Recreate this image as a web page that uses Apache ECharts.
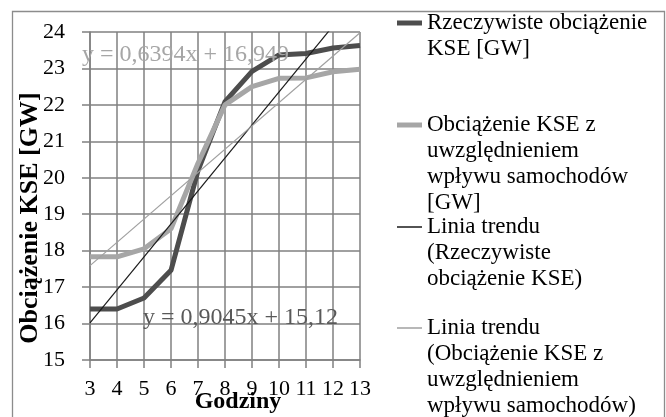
<!DOCTYPE html>
<html>
<head>
<meta charset="utf-8">
<script src="https://cdn.jsdelivr.net/npm/echarts@6/dist/echarts.min.js"></script>
<style>html,body{margin:0;padding:0;background:#fff;}#c{width:666px;height:417px;}</style>
</head>
<body>
<div id="c"></div>
<script>
// ---- data ----
const hours = [3, 4, 5, 6, 7, 8, 9, 10, 11, 12, 13];
const actualLoad = [16.4, 16.4, 16.7, 17.46, 20.2, 22.09, 22.92, 23.37, 23.41, 23.56, 23.63];
const loadWithEV = [17.83, 17.83, 18.05, 18.6, 20.4, 22.0, 22.5, 22.73, 22.74, 22.91, 22.98];
const trendHours = [3, 13];
const trendActual = [16.02, 25.07];
const trendEV = [17.59, 23.98];
const yTicks = [15, 24, 1];
const seriesNames = [
  'Rzeczywiste obciążenie KSE [GW]',
  'Obciążenie KSE z uwzględnieniem wpływu samochodów [GW]',
  'Linia trendu (Rzeczywiste obciążenie KSE)',
  'Linia trendu (Obciążenie KSE z uwzględnieniem wpływu samochodów)'
];
const legendLines = [
  ['Rzeczywiste obciążenie', 'KSE [GW]'],
  ['Obciążenie KSE z', 'uwzględnieniem', 'wpływu samochodów', '[GW]'],
  ['Linia trendu', '(Rzeczywiste', 'obciążenie KSE)'],
  ['Linia trendu', '(Obciążenie KSE z', 'uwzględnieniem', 'wpływu samochodów)']
];
const equationTexts = ['y = 0,6394x + 16,949', 'y = 0,9045x + 15,12'];

// ---- chart ----
const FONT = 'Liberation Serif';
const pairs = (xs, ys) => xs.map((x, i) => [x, ys[i]]);
const LH = 26;
const iconY = [22, 124, 226, 327];
const iconH = [5, 5, 1.5, 1.5];
const legends = legendLines.map((lines, i) => {
  const n = lines.length;
  const box = (2 * n - 1) * LH;
  const padded = new Array(n - 1).fill('').concat(lines).join('\n');
  return {
    data: [{ name: seriesNames[i], icon: 'rect' }],
    orient: 'vertical',
    left: 397,
    top: iconY[i] - box / 2 + 1,
    padding: 0,
    itemWidth: 25,
    itemHeight: iconH[i],
    selectedMode: false,
    formatter: () => padded,
    textStyle: { fontFamily: FONT, fontSize: 23, color: '#000', lineHeight: LH }
  };
});

const gridColor = '#808080';
const option = {
  animation: false,
  backgroundColor: '#fff',
  grid: { left: 90, right: 306, top: 32, bottom: 57, containLabel: false, outerBoundsMode: 'none' },
  legend: legends,
  xAxis: {
    type: 'value', min: 3, max: 13, interval: 1,
    name: 'Godziny', nameLocation: 'middle', nameGap: 30, nameMoveOverlap: false,
    nameTextStyle: { fontFamily: FONT, fontSize: 24, fontWeight: 'bold', color: '#000', padding: [0, 0, 0, 26] },
    axisLine: { show: true, lineStyle: { color: gridColor, width: 1.5 } },
    axisTick: { show: true, length: 8, lineStyle: { color: gridColor, width: 1.5 } },
    axisLabel: { fontFamily: FONT, fontSize: 22, color: '#000', margin: 18 },
    splitLine: { show: true, lineStyle: { color: gridColor, width: 1.5 } }
  },
  yAxis: {
    type: 'value', min: yTicks[0], max: yTicks[1], interval: yTicks[2],
    name: 'Obciążenie KSE [GW]', nameLocation: 'middle', nameGap: 47, nameRotate: 90, nameMoveOverlap: false,
    nameTextStyle: { fontFamily: FONT, fontSize: 26, fontWeight: 'bold', color: '#000', padding: [0, 44, 0, 0] },
    axisLine: { show: true, lineStyle: { color: gridColor, width: 1.5 } },
    axisTick: { show: true, length: 8, lineStyle: { color: gridColor, width: 1.5 } },
    axisLabel: { fontFamily: FONT, fontSize: 22, color: '#000', margin: 25 },
    splitLine: { show: true, lineStyle: { color: gridColor, width: 1.5 } }
  },
  series: [
    { name: seriesNames[0], type: 'line', data: pairs(hours, actualLoad), symbol: 'none',
      lineStyle: { color: '#4d4d4d', width: 5 }, itemStyle: { color: '#4d4d4d' }, z: 3 },
    { name: seriesNames[1], type: 'line', data: pairs(hours, loadWithEV), symbol: 'none',
      lineStyle: { color: '#a6a6a6', width: 5 }, itemStyle: { color: '#a6a6a6' }, z: 3 },
    { name: seriesNames[2], type: 'line', data: pairs(trendHours, trendActual), symbol: 'none', clip: true,
      lineStyle: { color: '#1a1a1a', width: 1.2 }, itemStyle: { color: '#1a1a1a' }, z: 4 },
    { name: seriesNames[3], type: 'line', data: pairs(trendHours, trendEV), symbol: 'none', clip: true,
      lineStyle: { color: '#a0a0a0', width: 1.2 }, itemStyle: { color: '#a0a0a0' }, z: 4 }
  ],
  graphic: [
    { type: 'rect', shape: { x: 12.5, y: 11.5, width: 652, height: 430 }, silent: true,
      style: { fill: 'none', stroke: '#8c8c8c', lineWidth: 1.3 }, z: 0 },
    { type: 'text', left: 82, top: 43, z: 10,
      style: { text: equationTexts[0], fontFamily: FONT, fontSize: 24, fill: '#a6a6a6' } },
    { type: 'text', left: 143, top: 306, z: 10,
      style: { text: equationTexts[1], fontFamily: FONT, fontSize: 24, fill: '#595959' } }
  ]
};
const chart = echarts.init(document.getElementById('c'), null, { renderer: 'canvas' });
chart.setOption(option);
</script>
</body>
</html>
